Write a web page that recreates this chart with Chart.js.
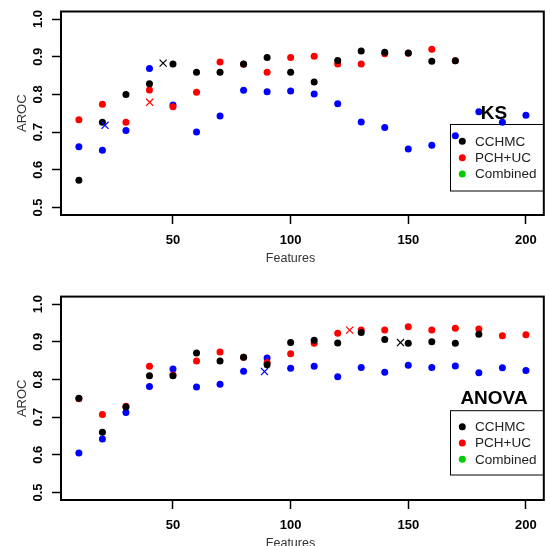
<!DOCTYPE html>
<html><head><meta charset="utf-8">
<script src="https://cdn.jsdelivr.net/npm/chart.js@4"></script>
<style>
html,body{margin:0;padding:0;background:#fff;}
#wrap{position:relative;width:550px;height:546px;overflow:hidden;background:#fff;}
canvas{position:absolute;left:0;}
</style></head><body>
<div id="wrap">
<canvas id="c1" width="550" height="273" style="top:0px"></canvas>
<canvas id="c2" width="550" height="273" style="top:273px"></canvas>
</div>
<script>
// ---- data ----
const features = [10,20,30,40,50,60,70,80,90,100,110,120,130,140,150,160,170,180,190,200];
const seriesNames = ['CCHMC','PCH+UC','Combined'];
const xTicks = [50,100,150,200];
const yTicks = [0.5,0.6,0.7,0.8,0.9,1.0];
const yTickLabels = ['0.5','0.6','0.7','0.8','0.9','1.0'];

// KS panel
const ksCCHMC = [0.572,0.726,0.800,0.828,0.881,0.859,0.859,0.881,0.898,0.859,0.833,0.890,0.915,0.912,0.910,0.888,0.889,null,null,null];
const ksPCHUC = [0.733,0.774,0.726,0.812,0.767,0.806,0.886,0.880,0.859,0.898,0.901,0.881,0.881,0.908,0.909,0.920,0.889,null,null,null];
const ksCombined = [0.661,0.652,0.704,0.869,0.772,0.700,0.743,0.811,0.807,0.809,0.801,0.775,0.727,0.712,0.655,0.665,0.690,0.754,0.726,0.745];
const ksMarkX = [45.8,40.1,21.1];   // CCHMC, PCH+UC, Combined
const ksMarkY = [0.883,0.779,0.718];

// ANOVA panel
const anCCHMC = [0.750,0.660,0.727,0.810,0.810,0.870,0.849,0.859,0.839,0.898,0.904,0.897,0.925,0.906,0.896,0.900,0.896,0.920,null,null];
const anPCHUC = [0.749,0.707,0.729,0.835,0.812,0.849,0.873,0.859,0.845,0.868,0.896,0.923,0.931,0.931,0.940,0.931,0.936,0.934,0.916,0.919];
const anCombined = [0.605,0.642,0.712,0.781,0.828,0.780,0.787,0.822,0.857,0.830,0.835,0.807,0.832,0.819,0.838,0.832,0.836,0.818,0.831,0.824];
const anMarkX = [146.7,125.1,88.9];
const anMarkY = [0.898,0.931,0.821];

// ---- styles ----
const COLORS = ['#000000','#FF0000','#0000FF'];
const LEGEND_COLORS = ['#000000','#FF0000','#00CD00'];
const FONT = "'Liberation Sans', Arial, Helvetica, sans-serif";
Chart.defaults.font.family = FONT;

function pts(arr){ return features.map((f,i)=>({x:f,y:arr[i]})).filter(p=>p.y!==null); }

const deco = {
  id:'deco',
  beforeDatasetsDraw(chart){
    const o = chart.options.plugins.deco, ctx = chart.ctx;
    ctx.save();
    ctx.strokeStyle = '#000'; ctx.lineWidth = 1;
    ctx.strokeRect(o.box[0], o.box[1], o.box[2]-o.box[0], o.box[3]-o.box[1]);
    ctx.font = '13.5px ' + FONT; ctx.textAlign='left'; ctx.textBaseline='middle';
    seriesNames.forEach((n,i)=>{
      const y = o.rows[i];
      ctx.fillStyle = LEGEND_COLORS[i];
      ctx.beginPath(); ctx.arc(o.markX, y, 3.5, 0, Math.PI*2); ctx.fill();
      ctx.fillStyle = '#222';
      ctx.fillText(n, o.textX, y+0.5);
    });
    ctx.restore();
  },
  afterDraw(chart){
    const o = chart.options.plugins.deco, ctx = chart.ctx, a = chart.chartArea;
    const ys = chart.scales.y;
    ctx.save();
    ctx.strokeStyle='#000'; ctx.lineWidth=2;
    ctx.strokeRect(a.left, a.top, a.right-a.left, a.bottom-a.top);
    ctx.fillStyle='#000'; ctx.font='bold 13px '+FONT; ctx.textAlign='center'; ctx.textBaseline='alphabetic';
    ys.ticks.forEach((t)=>{
      const y = ys.getPixelForValue(t.value);
      ctx.save(); ctx.translate(41.5, y); ctx.rotate(-Math.PI/2);
      ctx.fillText(yTickLabels[yTicks.indexOf(t.value)], 0, 0); ctx.restore();
    });
    ctx.fillStyle='#333'; ctx.font='13px '+FONT;
    ctx.save(); ctx.translate(26, (a.top+a.bottom)/2); ctx.rotate(-Math.PI/2);
    ctx.fillText('AROC', 0, 0); ctx.restore();
    ctx.font='12.5px '+FONT;
    ctx.fillText('Features', 290.5, a.bottom + 47);
    ctx.fillStyle='#000'; ctx.font='bold 19px '+FONT; ctx.textBaseline='middle';
    ctx.fillText(o.title, o.titleX, o.titleY);
    ctx.restore();
  }
};

function makeChart(id, arrs, markX, markY, padTop, xHeight, decoOpts){
  const datasets = [];
  for (let i=0;i<3;i++){
    datasets.push({label:seriesNames[i]+' best', data:[{x:markX[i], y:markY[i]}],
      pointStyle:'crossRot', pointRadius:5, pointBorderWidth:1.2,
      borderColor:COLORS[i], backgroundColor:COLORS[i], pointBackgroundColor:'rgba(0,0,0,0)', pointBorderColor:COLORS[i]});
  }
  for (let i=0;i<3;i++){
    datasets.push({label:seriesNames[i], data:pts(arrs[i]), pointStyle:'circle', pointRadius:3.5,
      pointBorderWidth:0, backgroundColor:COLORS[i], borderColor:COLORS[i]});
  }
  return new Chart(document.getElementById(id), {
    type:'scatter',
    data:{datasets},
    options:{
      responsive:false, animation:false, devicePixelRatio:1,
      layout:{padding:{top:padTop, right:1, left:0, bottom:0}},
      plugins:{legend:{display:false}, tooltip:{enabled:false}, deco:decoOpts},
      scales:{
        x:{type:'linear', min:2.4, max:207.6,
          afterBuildTicks:s=>{ s.ticks = xTicks.map(v=>({value:v})); },
          afterFit:s=>{ s.height = xHeight; },
          grid:{display:true, drawOnChartArea:false, drawTicks:true, tickLength:9, tickWidth:1.5, tickColor:'#000'},
          border:{display:false},
          ticks:{color:'#000', font:{size:13, weight:'bold'}, padding:9, maxRotation:0, autoSkip:false}
        },
        y:{type:'linear', min:0.48, max:1.02,
          afterBuildTicks:s=>{ s.ticks = yTicks.map(v=>({value:v})); },
          afterFit:s=>{ s.width = 61; },
          grid:{display:true, drawOnChartArea:false, drawTicks:true, tickLength:9, tickWidth:1.5, tickColor:'#000'},
          border:{display:false},
          ticks:{display:false}
        }
      }
    },
    plugins:[deco]
  });
}

makeChart('c1', [ksCCHMC, ksPCHUC, ksCombined], ksMarkX, ksMarkY, 11.5, 58,
  {title:'KS', titleX:494, titleY:114, box:[450.5,124.5,543.5,191], rows:[141.3,157.7,174], markX:462.3, textX:475});
makeChart('c2', [anCCHMC, anPCHUC, anCombined], anMarkX, anMarkY, 23.6, 46,
  {title:'ANOVA', titleX:494, titleY:126, box:[450.5,137.7,543.5,202], rows:[153.7,170,186.3], markX:462.3, textX:475});
</script>
</body></html>
